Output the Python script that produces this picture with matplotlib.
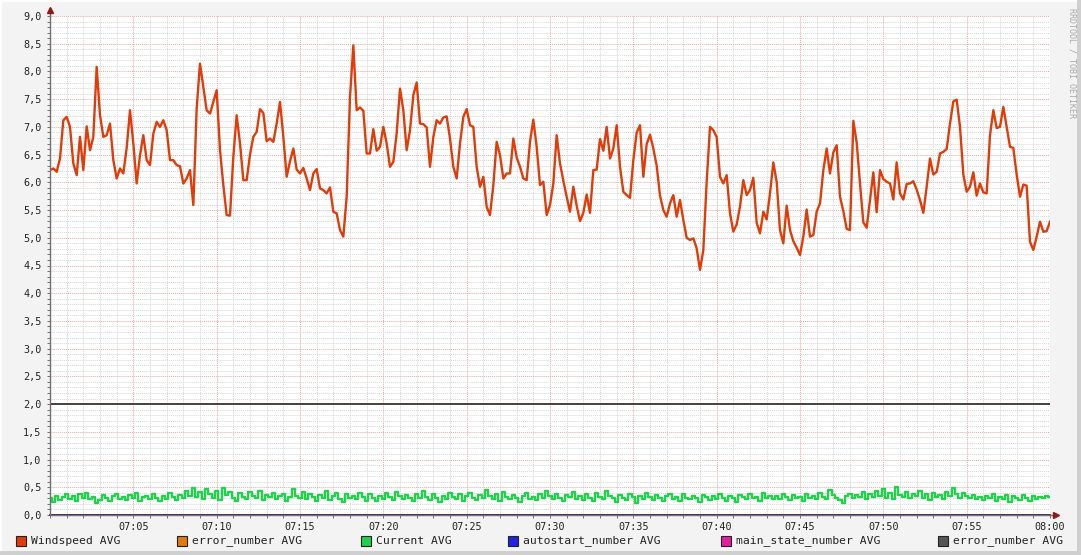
import numpy as np
import matplotlib
matplotlib.use('Agg')
import matplotlib.pyplot as plt
from matplotlib.patches import Rectangle

plt.rcParams['font.family'] = ['DejaVu Sans Mono', 'DejaVu Sans']

# minutes after 07:00, one sample every 0.2 min
wind_step = 0.2
windspeed = [
    6.22, 6.25, 6.19, 6.43, 7.12, 7.18, 7.00, 6.34, 6.13, 6.82,
    6.22, 7.01, 6.58, 6.82, 8.08, 7.21, 6.82, 6.85, 7.06, 6.40,
    6.07, 6.25, 6.16, 6.62, 7.30, 6.70, 5.98, 6.49, 6.85, 6.40,
    6.31, 6.88, 7.09, 7.00, 7.12, 6.94, 6.40, 6.40, 6.31, 6.29,
    5.98, 6.07, 6.22, 5.59, 7.33, 8.14, 7.72, 7.30, 7.24, 7.45,
    7.66, 6.58,
    5.95, 5.41, 5.40, 6.46, 7.21, 6.70, 6.04, 6.04, 6.50, 6.82,
    6.91, 7.32, 7.25, 6.74, 6.79, 6.73, 7.06, 7.45, 6.82, 6.10,
    6.38, 6.61, 6.23, 6.16, 6.26, 6.07, 5.86, 6.16, 6.24, 5.89,
    5.86, 5.80, 5.91, 5.47, 5.44, 5.14, 5.02, 5.74, 7.54, 8.47,
    7.30, 7.35, 7.29, 6.52, 6.52, 6.96, 6.57, 6.64, 7.00, 6.70,
    6.28,
    6.37, 6.88, 7.69, 7.30, 6.58, 6.94, 7.57, 7.80, 7.06, 7.05,
    6.99, 6.28, 6.82, 7.12, 7.06, 7.17, 7.19, 6.79, 6.28, 6.07,
    6.70, 7.18, 7.32, 7.03, 7.00, 6.28, 5.92, 6.10, 5.56, 5.41,
    5.95, 6.73, 6.49, 6.07, 6.16, 6.16, 6.79, 6.45, 6.28, 6.07,
    6.04, 6.73, 7.13, 6.64, 5.95, 6.01, 5.41, 5.59, 5.98, 6.85,
    6.34,
    6.03, 5.74, 5.47, 5.92, 5.58, 5.30, 5.45, 5.78, 5.45, 6.22,
    6.23, 6.78, 6.57, 7.00, 6.43, 6.61, 7.03, 6.28, 5.83, 5.77,
    5.72, 6.40, 6.90, 7.03, 6.10, 6.69, 6.86, 6.61, 6.30, 5.76,
    5.50, 5.38, 5.62, 5.77, 5.38, 5.68, 5.32, 5.00, 4.96, 4.99,
    4.81, 4.42, 4.78, 6.01, 7.00, 6.94, 6.82, 6.10, 5.98, 6.13,
    5.44,
    5.11, 5.24, 5.56, 6.04, 5.77, 5.86, 6.08, 5.27, 5.08, 5.47,
    5.33, 5.80, 6.36, 6.01, 5.14, 4.90, 5.58, 5.14, 4.94, 4.82,
    4.69, 5.02, 5.51, 5.02, 5.05, 5.47, 5.62, 6.22, 6.61, 6.16,
    6.54, 6.67, 5.74, 5.48, 5.16, 5.14, 7.11, 6.72, 5.98, 5.28,
    5.18, 5.68, 6.18, 5.46, 6.22, 6.06, 6.01, 5.98, 5.69, 6.36,
    5.80,
    5.69, 5.97, 5.98, 6.02, 5.87, 5.68, 5.45, 5.92, 6.43, 6.14,
    6.19, 6.52, 6.55, 6.60, 7.06, 7.46, 7.49, 7.00, 6.14, 5.83,
    5.92, 6.18, 5.76, 5.98, 5.82, 5.80, 6.85, 7.30, 6.98, 7.00,
    7.36, 7.00, 6.64, 6.62, 6.14, 5.74, 5.96, 5.94, 4.93, 4.78,
    5.02, 5.29, 5.11, 5.12, 5.29,
]

# one sample every 0.2 min
current_step = 0.2
current = [
    0.30, 0.24, 0.35, 0.27, 0.33, 0.37, 0.28, 0.34, 0.26, 0.38,
    0.31, 0.40, 0.29, 0.33, 0.22, 0.27, 0.36, 0.31, 0.25, 0.34,
    0.38, 0.29, 0.33, 0.27, 0.36, 0.31, 0.39, 0.26, 0.32, 0.35,
    0.28, 0.37, 0.30, 0.25, 0.34, 0.29, 0.40, 0.33, 0.27, 0.36,
    0.31, 0.44, 0.35, 0.48, 0.33, 0.41, 0.29, 0.46, 0.37, 0.30,
    0.43, 0.27, 0.49, 0.36, 0.41, 0.31, 0.25, 0.39, 0.33, 0.28,
    0.42, 0.35, 0.30, 0.44, 0.27, 0.36, 0.32, 0.40, 0.29, 0.34,
    0.38, 0.26, 0.33, 0.47, 0.35, 0.30, 0.41, 0.28, 0.37, 0.32,
    0.26, 0.36, 0.30, 0.43, 0.27, 0.34, 0.39, 0.29, 0.24, 0.37,
    0.31, 0.35, 0.28, 0.40, 0.33, 0.26, 0.38, 0.30, 0.25, 0.35,
    0.29, 0.39, 0.32, 0.27, 0.42, 0.34, 0.28, 0.36, 0.31, 0.26,
    0.37, 0.30, 0.44, 0.33, 0.27, 0.38, 0.31, 0.24, 0.35, 0.29,
    0.40, 0.32, 0.28, 0.37, 0.25, 0.34, 0.39, 0.30, 0.27, 0.36,
    0.31, 0.45, 0.34, 0.29, 0.38, 0.26, 0.41, 0.33, 0.28, 0.36,
    0.30, 0.24, 0.35, 0.40, 0.29, 0.33, 0.27, 0.37, 0.31, 0.43,
    0.34, 0.28, 0.38, 0.30, 0.25, 0.36, 0.32, 0.41, 0.28, 0.34,
    0.27, 0.37, 0.31, 0.26, 0.39, 0.33, 0.29, 0.44, 0.35, 0.30,
    0.24, 0.36, 0.31, 0.27, 0.38, 0.33, 0.22, 0.35, 0.29, 0.40,
    0.32, 0.27, 0.36, 0.30, 0.25, 0.34, 0.38, 0.29, 0.33, 0.26,
    0.37, 0.31, 0.28, 0.35, 0.30, 0.24, 0.36, 0.32, 0.27, 0.34,
    0.29, 0.38, 0.31, 0.26, 0.35, 0.30, 0.23, 0.36, 0.32, 0.28,
    0.37, 0.30, 0.33, 0.26, 0.40, 0.31, 0.35, 0.28, 0.34, 0.29,
    0.38, 0.32, 0.27, 0.36, 0.30, 0.33, 0.25, 0.37, 0.31, 0.35,
    0.28, 0.39, 0.32, 0.29, 0.45, 0.36, 0.31, 0.27, 0.22, 0.34,
    0.38, 0.30, 0.36, 0.33, 0.41, 0.29, 0.37, 0.32, 0.43, 0.35,
    0.46, 0.31, 0.39, 0.28, 0.50, 0.36, 0.33, 0.42, 0.30, 0.38,
    0.34, 0.44, 0.31, 0.37, 0.27, 0.40, 0.33, 0.36, 0.29, 0.42,
    0.35, 0.48, 0.38, 0.31, 0.40, 0.34, 0.30, 0.36, 0.28, 0.33,
    0.27, 0.35, 0.30, 0.38, 0.26, 0.33, 0.29, 0.36, 0.24, 0.34,
    0.31, 0.27, 0.36, 0.30, 0.25, 0.35, 0.28, 0.33, 0.30, 0.34,
    0.32,
]

const_times = [0, 60]
error_number = [2.0, 2.0]
autostart_number = [0.0, 0.0]
main_state_number = [0.0, 0.0]

x_ticks = [5, 10, 15, 20, 25, 30, 35, 40, 45, 50, 55, 60]
x_labels = ['07:05', '07:10', '07:15', '07:20', '07:25', '07:30',
            '07:35', '07:40', '07:45', '07:50', '07:55', '08:00']
y_ticks = [0.0, 0.5, 1.0, 1.5, 2.0, 2.5, 3.0, 3.5, 4.0, 4.5,
           5.0, 5.5, 6.0, 6.5, 7.0, 7.5, 8.0, 8.5, 9.0]

legend_items = [
    ('Windspeed AVG', '#e03c0a', 16),
    ('error_number AVG', '#e07a10', 177),
    ('Current AVG', '#1ed24a', 361),
    ('autostart_number AVG', '#2222e0', 508),
    ('main_state_number AVG', '#e020a0', 721),
    ('error_number AVG', '#555555', 938),
]

W, H = 1081, 555
fig = plt.figure(figsize=(W / 100, H / 100), dpi=100, facecolor='#f3f3f3')
ax = fig.add_axes([50 / W, 40 / H, 1000 / W, 499 / H])
ax.set_facecolor('white')

t_wind = np.arange(len(windspeed)) * wind_step
t_cur = np.arange(len(current)) * current_step

ax.plot(t_cur, current, color='#1ed24a', lw=1.7, drawstyle='steps-mid', zorder=3)
ax.plot(t_wind, windspeed, color='#e03c0a', lw=1.7, zorder=4)
ax.plot(const_times, error_number, color='#e07a10', lw=1.4, zorder=3)
ax.plot(const_times, error_number, color='#4a4444', lw=1.4, zorder=3)
ax.plot(const_times, main_state_number, color='#e020a0', lw=1.2, zorder=3, clip_on=False)
ax.plot(const_times, autostart_number, color='#2a2070', lw=1.2, zorder=3, clip_on=False)

ax.set_xlim(0, 60)
ax.set_ylim(0, 9)
ax.set_xticks(x_ticks)
ax.set_xticklabels(x_labels)
ax.set_xticks(np.arange(0, 61, 1), minor=True)
ax.set_yticks(y_ticks)
ax.set_yticklabels([f'{v:.1f}'.replace('.', ',') for v in y_ticks])
ax.set_yticks(np.arange(0, 9.01, 0.1), minor=True)

ax.grid(which='minor', color='#d6d6d6', linestyle=(0, (1, 1)), lw=0.7)
ax.grid(which='major', color='#e8a8a8', linestyle=(0, (1, 1)), lw=0.7)
ax.set_axisbelow(True)

ax.tick_params(which='both', length=2, width=0.7, color='#707070', labelsize=7.3,
               labelcolor='#222222', direction='out')
ax.tick_params(axis='y', pad=4)
ax.tick_params(axis='x', pad=3)

for s in ['top', 'right']:
    ax.spines[s].set_visible(False)
for s in ['left', 'bottom']:
    ax.spines[s].set_color('#707070')
    ax.spines[s].set_linewidth(1.0)
    ax.spines[s].set_zorder(5)

# axis arrows as rrdtool draws them
ax.plot([0, 0], [1.0, 1.012], color='#707070', lw=1.0, transform=ax.transAxes, clip_on=False)
ax.plot([0], [1.012], marker='^', ms=4, color='#8b1a1a', transform=ax.transAxes, clip_on=False)
ax.plot([1.0, 1.006], [0, 0], color='#707070', lw=1.0, transform=ax.transAxes, clip_on=False)
ax.plot([1.006], [0], marker='>', ms=4, color='#8b1a1a', transform=ax.transAxes, clip_on=False)

# legend row
for label, color, px in legend_items:
    fig.add_artist(Rectangle((px / W, (H - 546) / H), 10 / W, 10 / H,
                             transform=fig.transFigure, facecolor=color,
                             edgecolor='#222222', lw=0.8))
    fig.text((px + 15) / W, (H - 541) / H, label, fontsize=8.2, color='#222222',
             va='center', ha='left')

fig.text(1072 / W, (H - 8) / H, 'RRDTOOL / TOBI OETIKER', rotation=270,
         fontsize=6, color='#a8a8a8', ha='center', va='top')

# 3D frame around the canvas
fig.add_artist(Rectangle((0, 0), 1, 1, transform=fig.transFigure, fill=False,
                         edgecolor='white', lw=2))
fig.add_artist(Rectangle(((W - 4) / W, 0), 4 / W, 1, transform=fig.transFigure,
                         facecolor='#cfcfcf', edgecolor='none'))
fig.add_artist(Rectangle((0, 0), 1, 4 / H, transform=fig.transFigure,
                         facecolor='#cfcfcf', edgecolor='none'))

fig.savefig('out.png', dpi=100, facecolor=fig.get_facecolor())
